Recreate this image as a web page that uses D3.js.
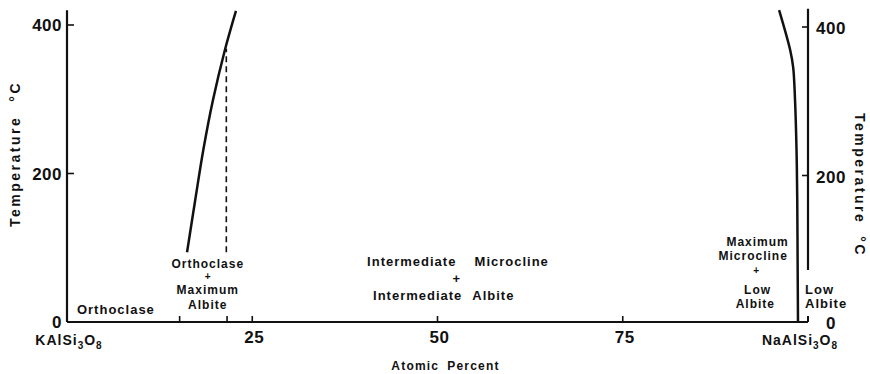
<!DOCTYPE html>
<html lang="en">
<head>
<meta charset="UTF-8">
<title>KAlSi3O8 - NaAlSi3O8</title>
<script src="https://d3js.org/d3.v7.min.js"></script>
<style>
  body { margin: 0; background: #fff; }
  svg text { font-family: "Liberation Sans", Arial, sans-serif; font-weight: bold; fill: #111; }
  .lbl { font-size: 13px; letter-spacing: 1px; }
  .stack { font-size: 12px; letter-spacing: 1px; }
  .plus { font-size: 10px; }
  .tick { font-size: 17px; letter-spacing: 0.5px; }
  .title { font-size: 12px; letter-spacing: 1.2px; }
  .vtitle { font-size: 14px; letter-spacing: 2.5px; }
</style>
</head>
<body>
<svg id="chart" width="870" height="374"></svg>
<script>
// atomic percent NaAlSi3O8 vs temperature (deg C)
const xTicks = [25, 50, 75];
const xMinorTicks = [15.2, 21.6];
const yTicks = [0, 200, 400];

// boundary on the K side
const leftBoundary = [[16.2, 94], [17.3, 164], [18.4, 232], [19.7, 299], [21.3, 366], [22.8, 419]];
// dashed boundary
const dashedBoundary = [[21.5, 94], [21.5, 368]];
// boundary on the Na side
const rightBoundary = [[96.1, 420], [97.6, 366], [98.0, 343], [98.25, 299], [98.45, 232], [98.55, 164], [98.6, 80], [98.65, 0]];

// region labels: [x, y, text, class]
const regionLabels = [
  [6.6, 17, "Orthoclase", "lbl"],
  [19.0, 79, "Orthoclase", "stack"], [19.0, 62, "+", "plus"], [19.0, 44, "Maximum", "stack"], [19.0, 24, "Albite", "stack"],
  [93.2, 108, "Maximum", "stack"], [92.6, 89, "Microcline", "stack"], [93.0, 70, "+", "plus"],
  [93.2, 44, "Low", "stack"], [92.9, 25, "Albite", "stack"]
];
// left-aligned labels: [x, y, text]
const startLabels = [
  [40.5, 82, "Intermediate"], [55.0, 82, "Microcline"],
  [41.3, 36, "Intermediate"], [54.7, 36, "Albite"],
  [99.6, 44, "Low"], [99.6, 25, "Albite"]
];
const plusMid = [[52.6, 59]];

const svg = d3.select("#chart");

const x = d3.scaleLinear().domain([0, 100]).range([67, 808]);
const y = d3.scaleLinear().domain([0, 400]).range([322, 25]);

// axes lines
svg.append("line").attr("x1", x(0)).attr("x2", x(0)).attr("y1", y(0)).attr("y2", y(420))
  .attr("stroke", "#111").attr("stroke-width", 2.2);
svg.append("line").attr("x1", x(0)).attr("x2", x(100)).attr("y1", y(0)).attr("y2", y(0))
  .attr("stroke", "#111").attr("stroke-width", 2.2);
svg.append("line").attr("x1", x(100)).attr("x2", x(100)).attr("y1", y(70)).attr("y2", y(422))
  .attr("stroke", "#111").attr("stroke-width", 2.2);
svg.append("line").attr("x1", x(100)).attr("x2", x(100)).attr("y1", y(0)).attr("y2", y(8))
  .attr("stroke", "#111").attr("stroke-width", 2);

// ticks
const tk = svg.append("g").attr("stroke", "#111").attr("stroke-width", 1.6);
tk.selectAll(".lt").data(yTicks.slice(1)).enter().append("line")
  .attr("x1", x(0)).attr("x2", x(0) + 7).attr("y1", d => y(d)).attr("y2", d => y(d));
tk.selectAll(".rt").data(yTicks.slice(1)).enter().append("line")
  .attr("x1", x(100) - 6).attr("x2", x(100)).attr("y1", d => y(d) + 2).attr("y2", d => y(d) + 2);
tk.selectAll(".bt").data(xTicks.concat(xMinorTicks)).enter().append("line")
  .attr("x1", d => x(d)).attr("x2", d => x(d)).attr("y1", y(0)).attr("y2", y(0) - 6);

// tick labels
svg.selectAll(".yl").data(yTicks).enter().append("text").attr("class", "tick")
  .attr("x", x(0) - 5).attr("y", d => y(d)).attr("dy", "0.36em").attr("text-anchor", "end")
  .text(d => d);
svg.selectAll(".yr").data(yTicks).enter().append("text").attr("class", "tick")
  .attr("x", x(100) + 23).attr("y", d => y(d) + (d === 0 ? 1 : 3)).attr("dy", "0.36em").attr("text-anchor", "middle")
  .text(d => d);
svg.selectAll(".xl").data(xTicks).enter().append("text").attr("class", "tick")
  .attr("x", d => x(d) + 2).attr("y", y(0) + 21).attr("text-anchor", "middle")
  .text(d => d);

// end member labels
function formula(px, parts) {
  const t = svg.append("text").attr("class", "lbl").attr("x", px).attr("y", y(0) + 23)
    .attr("text-anchor", "middle").style("font-size", "14px");
  parts.forEach(p => {
    if (p.sub) t.append("tspan").attr("dy", 4).style("font-size", "10px").text(p.s);
    else t.append("tspan").attr("dy", p.back ? -4 : 0).text(p.s);
  });
}
formula(x(0) + 2, [{ s: "KAlSi" }, { s: "3", sub: true }, { s: "O", back: true }, { s: "8", sub: true }]);
formula(x(100) - 8, [{ s: "NaAlSi" }, { s: "3", sub: true }, { s: "O", back: true }, { s: "8", sub: true }]);

// axis titles
svg.append("text").attr("class", "title").attr("x", x(50) + 8).attr("y", 370)
  .attr("text-anchor", "middle").text("Atomic").append("tspan").attr("dx", 8).text("Percent");

svg.append("text").attr("class", "vtitle")
  .attr("transform", "translate(20,227) rotate(-90)")
  .text("Temperature").append("tspan").attr("dx", 14).text("°C");
svg.append("text").attr("class", "vtitle")
  .attr("transform", "translate(855,113) rotate(90)")
  .text("Temperature").append("tspan").attr("dx", 12).text("°C");

// boundaries
const line = d3.line().x(d => x(d[0])).y(d => y(d[1])).curve(d3.curveCatmullRom);
svg.append("path").datum(leftBoundary).attr("d", line)
  .attr("fill", "none").attr("stroke", "#111").attr("stroke-width", 2.5);
svg.append("path").datum(rightBoundary).attr("d", line)
  .attr("fill", "none").attr("stroke", "#111").attr("stroke-width", 2.5);
svg.append("path").datum(dashedBoundary).attr("d", d3.line().x(d => x(d[0])).y(d => y(d[1])))
  .attr("fill", "none").attr("stroke", "#111").attr("stroke-width", 1.6).attr("stroke-dasharray", "6,4");

// region labels
svg.selectAll(".rl").data(regionLabels).enter().append("text").attr("class", d => d[3])
  .attr("x", d => x(d[0])).attr("y", d => y(d[1])).attr("dy", "0.36em").attr("text-anchor", "middle")
  .text(d => d[2]);
svg.selectAll(".sl").data(startLabels).enter().append("text").attr("class", "lbl")
  .attr("x", d => x(d[0])).attr("y", d => y(d[1])).attr("dy", "0.36em").attr("text-anchor", "start")
  .text(d => d[2]);
svg.selectAll(".pm").data(plusMid).enter().append("text").attr("class", "lbl")
  .attr("x", d => x(d[0])).attr("y", d => y(d[1])).attr("dy", "0.36em").attr("text-anchor", "middle")
  .text("+");
</script>
</body>
</html>
